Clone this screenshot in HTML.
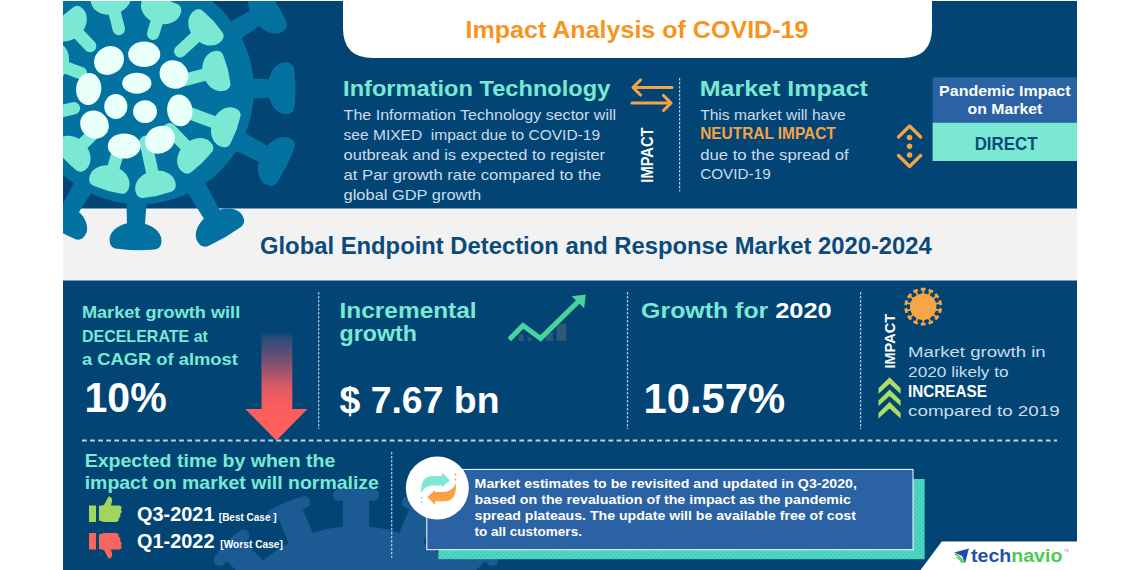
<!DOCTYPE html>
<html lang="en"><head><meta charset="utf-8"><title>Impact Analysis of COVID-19</title><style>html,body{margin:0;padding:0;background:#fff;overflow:hidden}svg text{white-space:pre}</style></head><body>
<svg width="1140" height="570" viewBox="0 0 1140 570" font-family="'Liberation Sans', sans-serif" style="display:block">
<rect width="1140" height="570" fill="#ffffff"/>
<defs><clipPath id="frame"><rect x="63" y="1" width="1014" height="569"/></clipPath><linearGradient id="redarrow" x1="0" y1="0" x2="0" y2="1"><stop offset="0" stop-color="#2a4a78" stop-opacity="0"/><stop offset="0.05" stop-color="#2f4b79" stop-opacity="0.9"/><stop offset="0.12" stop-color="#404d79"/><stop offset="0.31" stop-color="#8a526f"/><stop offset="0.52" stop-color="#e05a62"/><stop offset="0.68" stop-color="#fb5d5e"/><stop offset="1" stop-color="#ff605c"/></linearGradient><pattern id="hatch" width="3" height="3" patternUnits="userSpaceOnUse" patternTransform="rotate(45)"><rect width="3" height="3" fill="#3fcdb8"/><rect width="1" height="3" fill="#62dccb"/></pattern></defs>
<g clip-path="url(#frame)">
<rect x="63" y="1" width="1014" height="569" fill="#024575"/>
<rect x="63" y="208.5" width="1014" height="72" fill="#f2f2f2"/>
<g fill="#1b5a93"><circle cx="356" cy="668" r="142"/>
<g transform="translate(356,668) rotate(-159)"><rect x="138" y="-13" width="42" height="26"/><rect x="167" y="-23" width="12" height="46" rx="6"/></g>
<g transform="translate(356,668) rotate(-136)"><rect x="138" y="-13" width="42" height="26"/><rect x="167" y="-23" width="12" height="46" rx="6"/></g>
<g transform="translate(356,668) rotate(-113)"><rect x="138" y="-13" width="42" height="26"/><rect x="167" y="-23" width="12" height="46" rx="6"/></g>
<g transform="translate(356,668) rotate(-90)"><rect x="138" y="-13" width="42" height="26"/><rect x="167" y="-23" width="12" height="46" rx="6"/></g>
<g transform="translate(356,668) rotate(-67)"><rect x="138" y="-13" width="42" height="26"/><rect x="167" y="-23" width="12" height="46" rx="6"/></g>
<g transform="translate(356,668) rotate(-44)"><rect x="138" y="-13" width="42" height="26"/><rect x="167" y="-23" width="12" height="46" rx="6"/></g>
<g transform="translate(356,668) rotate(-21)"><rect x="138" y="-13" width="42" height="26"/><rect x="167" y="-23" width="12" height="46" rx="6"/></g>
</g>
<circle cx="139.5" cy="89.7" r="114.5" fill="#0372a1"/>
<g transform="translate(139.5,89.7) rotate(-31.8)" fill="#0372a1"><path d="M109.5,-10.2 L140.1,-8.8 L140.1,8.8 L109.5,10.2 Z"/><path d="M151.9,26.0 C142.1,26.0 134.1,14.4 134.1,0 C134.1,-14.4 142.1,-26.0 151.9,-26.0 Q161.1,-26.0 161.1,-16.1 Q162.7,0 161.1,16.1 Q161.1,26.0 151.9,26.0 Z"/></g>
<g transform="translate(139.5,89.7) rotate(-0.6)" fill="#0372a1"><path d="M109.5,-10.2 L134.3,-8.8 L134.3,8.8 L109.5,10.2 Z"/><path d="M146.1,26.0 C136.3,26.0 128.3,14.4 128.3,0 C128.3,-14.4 136.3,-26.0 146.1,-26.0 Q155.3,-26.0 155.3,-16.1 Q156.9,0 155.3,16.1 Q155.3,26.0 146.1,26.0 Z"/></g>
<g transform="translate(139.5,89.7) rotate(27.4)" fill="#0372a1"><path d="M109.5,-10.2 L144.0,-8.8 L144.0,8.8 L109.5,10.2 Z"/><path d="M155.9,26.0 C146.0,26.0 138.0,14.4 138.0,0 C138.0,-14.4 146.0,-26.0 155.9,-26.0 Q165.0,-26.0 165.0,-16.1 Q166.6,0 165.0,16.1 Q165.0,26.0 155.9,26.0 Z"/></g>
<g transform="translate(139.5,89.7) rotate(59.9)" fill="#0372a1"><path d="M109.5,-10.2 L148.9,-8.8 L148.9,8.8 L109.5,10.2 Z"/><path d="M160.7,26.0 C150.9,26.0 142.9,14.4 142.9,0 C142.9,-14.4 150.9,-26.0 160.7,-26.0 Q169.9,-26.0 169.9,-16.1 Q171.5,0 169.9,16.1 Q169.9,26.0 160.7,26.0 Z"/></g>
<g transform="translate(139.5,89.7) rotate(91.5)" fill="#0372a1"><path d="M109.5,-10.2 L138.8,-8.8 L138.8,8.8 L109.5,10.2 Z"/><path d="M150.7,26.0 C140.8,26.0 132.8,14.4 132.8,0 C132.8,-14.4 140.8,-26.0 150.7,-26.0 Q159.8,-26.0 159.8,-16.1 Q161.4,0 159.8,16.1 Q159.8,26.0 150.7,26.0 Z"/></g>
<g transform="translate(139.5,89.7) rotate(120.1)" fill="#0372a1"><path d="M109.5,-10.2 L140.9,-8.8 L140.9,8.8 L109.5,10.2 Z"/><path d="M152.7,26.0 C142.8,26.0 134.9,14.4 134.9,0 C134.9,-14.4 142.8,-26.0 152.7,-26.0 Q161.9,-26.0 161.9,-16.1 Q163.5,0 161.9,16.1 Q161.9,26.0 152.7,26.0 Z"/></g>
<g transform="translate(139.5,89.7) rotate(-132.2)" fill="#0372a1"><path d="M109.5,-10.2 L140.6,-8.8 L140.6,8.8 L109.5,10.2 Z"/><path d="M152.4,26.0 C142.6,26.0 134.6,14.4 134.6,0 C134.6,-14.4 142.6,-26.0 152.4,-26.0 Q161.6,-26.0 161.6,-16.1 Q163.2,0 161.6,16.1 Q161.6,26.0 152.4,26.0 Z"/></g>
<g transform="translate(135.0,93.0) rotate(-133.7)" fill="#7ae8d3"><path d="M65.0,-6.2 L86.4,-6.2 L86.4,6.2 L65.0,6.2 A6.2,6.2 0 0 1 65.0,-6.2 Z"/><path d="M96.6,20.5 C87.6,20.5 80.4,11.3 80.4,0 C80.4,-11.3 87.6,-20.5 96.6,-20.5 Q104.9,-20.5 104.9,-12.7 Q106.5,0 104.9,12.7 Q104.9,20.5 96.6,20.5 Z"/></g>
<g transform="translate(135.0,93.0) rotate(-104.2)" fill="#7ae8d3"><path d="M66.0,-6.2 L87.6,-6.2 L87.6,6.2 L66.0,6.2 A6.2,6.2 0 0 1 66.0,-6.2 Z"/><path d="M97.8,20.5 C88.9,20.5 81.6,11.3 81.6,0 C81.6,-11.3 88.9,-20.5 97.8,-20.5 Q106.1,-20.5 106.1,-12.7 Q107.7,0 106.1,12.7 Q106.1,20.5 97.8,20.5 Z"/></g>
<g transform="translate(135.0,93.0) rotate(-73.0)" fill="#7ae8d3"><path d="M62.0,-6.2 L79.1,-6.2 L79.1,6.2 L62.0,6.2 A6.2,6.2 0 0 1 62.0,-6.2 Z"/><path d="M89.3,20.5 C80.3,20.5 73.1,11.3 73.1,0 C73.1,-11.3 80.3,-20.5 89.3,-20.5 Q97.6,-20.5 97.6,-12.7 Q99.2,0 97.6,12.7 Q97.6,20.5 89.3,20.5 Z"/></g>
<g transform="translate(135.0,93.0) rotate(-42.7)" fill="#7ae8d3"><path d="M61.5,-6.2 L87.2,-6.2 L87.2,6.2 L61.5,6.2 A6.2,6.2 0 0 1 61.5,-6.2 Z"/><path d="M97.4,20.5 C88.5,20.5 81.2,11.3 81.2,0 C81.2,-11.3 88.5,-20.5 97.4,-20.5 Q105.7,-20.5 105.7,-12.7 Q107.3,0 105.7,12.7 Q105.7,20.5 97.4,20.5 Z"/></g>
<g transform="translate(135.0,93.0) rotate(-14.7)" fill="#7ae8d3"><path d="M50.0,-6.2 L76.5,-6.2 L76.5,6.2 L50.0,6.2 A6.2,6.2 0 0 1 50.0,-6.2 Z"/><path d="M86.6,20.5 C77.7,20.5 70.5,11.3 70.5,0 C70.5,-11.3 77.7,-20.5 86.6,-20.5 Q95.0,-20.5 95.0,-12.7 Q96.6,0 95.0,12.7 Q95.0,20.5 86.6,20.5 Z"/></g>
<g transform="translate(135.0,93.0) rotate(20.3)" fill="#7ae8d3"><path d="M50.0,-6.2 L88.7,-6.2 L88.7,6.2 L50.0,6.2 A6.2,6.2 0 0 1 50.0,-6.2 Z"/><path d="M98.8,20.5 C89.9,20.5 82.7,11.3 82.7,0 C82.7,-11.3 89.9,-20.5 98.8,-20.5 Q107.2,-20.5 107.2,-12.7 Q108.8,0 107.2,12.7 Q107.2,20.5 98.8,20.5 Z"/></g>
<g transform="translate(135.0,93.0) rotate(46.2)" fill="#7ae8d3"><path d="M50.0,-6.2 L77.6,-6.2 L77.6,6.2 L50.0,6.2 A6.2,6.2 0 0 1 50.0,-6.2 Z"/><path d="M87.7,20.5 C78.8,20.5 71.6,11.3 71.6,0 C71.6,-11.3 78.8,-20.5 87.7,-20.5 Q96.1,-20.5 96.1,-12.7 Q97.7,0 96.1,12.7 Q96.1,20.5 87.7,20.5 Z"/></g>
<g transform="translate(135.0,93.0) rotate(77.7)" fill="#7ae8d3"><path d="M50.0,-6.2 L85.9,-6.2 L85.9,6.2 L50.0,6.2 A6.2,6.2 0 0 1 50.0,-6.2 Z"/><path d="M96.1,20.5 C87.1,20.5 79.9,11.3 79.9,0 C79.9,-11.3 87.1,-20.5 96.1,-20.5 Q104.4,-20.5 104.4,-12.7 Q106.0,0 104.4,12.7 Q104.4,20.5 96.1,20.5 Z"/></g>
<g transform="translate(135.0,93.0) rotate(106.1)" fill="#7ae8d3"><path d="M50.0,-6.2 L82.2,-6.2 L82.2,6.2 L50.0,6.2 A6.2,6.2 0 0 1 50.0,-6.2 Z"/><path d="M92.4,20.5 C83.4,20.5 76.2,11.3 76.2,0 C76.2,-11.3 83.4,-20.5 92.4,-20.5 Q100.7,-20.5 100.7,-12.7 Q102.3,0 100.7,12.7 Q100.7,20.5 92.4,20.5 Z"/></g>
<g transform="translate(135.0,93.0) rotate(135.7)" fill="#7ae8d3"><path d="M50.0,-6.2 L77.6,-6.2 L77.6,6.2 L50.0,6.2 A6.2,6.2 0 0 1 50.0,-6.2 Z"/><path d="M87.8,20.5 C78.9,20.5 71.6,11.3 71.6,0 C71.6,-11.3 78.9,-20.5 87.8,-20.5 Q96.1,-20.5 96.1,-12.7 Q97.7,0 96.1,12.7 Q96.1,20.5 87.8,20.5 Z"/></g>
<g transform="translate(135.0,93.0) rotate(166.0)" fill="#7ae8d3"><path d="M63.0,-6.2 L85.8,-6.2 L85.8,6.2 L63.0,6.2 A6.2,6.2 0 0 1 63.0,-6.2 Z"/><path d="M96.0,20.5 C87.0,20.5 79.8,11.3 79.8,0 C79.8,-11.3 87.0,-20.5 96.0,-20.5 Q104.3,-20.5 104.3,-12.7 Q105.9,0 104.3,12.7 Q104.3,20.5 96.0,20.5 Z"/></g>
<g transform="translate(135.0,93.0) rotate(-159.8)" fill="#7ae8d3"><path d="M57.7,-6.2 L77.9,-6.2 L77.9,6.2 L57.7,6.2 A6.2,6.2 0 0 1 57.7,-6.2 Z"/><path d="M88.1,20.5 C79.1,20.5 71.9,11.3 71.9,0 C71.9,-11.3 79.1,-20.5 88.1,-20.5 Q96.4,-20.5 96.4,-12.7 Q98.0,0 96.4,12.7 Q96.4,20.5 88.1,20.5 Z"/></g>
<ellipse cx="109" cy="60.5" rx="15.5" ry="13.8" fill="#e9fff9" transform="rotate(-35 109 60.5)"/>
<ellipse cx="144.2" cy="54.3" rx="16" ry="12.7" fill="#e9fff9" transform="rotate(0 144.2 54.3)"/>
<ellipse cx="174" cy="74.5" rx="15" ry="13.6" fill="#e9fff9" transform="rotate(40 174 74.5)"/>
<ellipse cx="136.8" cy="83.2" rx="14.6" ry="10.5" fill="#e9fff9" transform="rotate(0 136.8 83.2)"/>
<ellipse cx="88.7" cy="89" rx="12.6" ry="16" fill="#e9fff9" transform="rotate(5 88.7 89)"/>
<ellipse cx="115.8" cy="106.5" rx="11.6" ry="12.5" fill="#e9fff9" transform="rotate(0 115.8 106.5)"/>
<ellipse cx="145" cy="111.6" rx="12" ry="11.4" fill="#e9fff9" transform="rotate(0 145 111.6)"/>
<ellipse cx="179.8" cy="110.4" rx="12.6" ry="16" fill="#e9fff9" transform="rotate(-8 179.8 110.4)"/>
<ellipse cx="94.5" cy="124.6" rx="14.8" ry="13.6" fill="#e9fff9" transform="rotate(40 94.5 124.6)"/>
<ellipse cx="124.2" cy="146" rx="16.4" ry="12.6" fill="#e9fff9" transform="rotate(0 124.2 146)"/>
<ellipse cx="160" cy="139.7" rx="15.6" ry="13.4" fill="#e9fff9" transform="rotate(-32 160 139.7)"/>
<path d="M343,0 L932,0 L932,28 Q932,58 902,58 L373,58 Q343,58 343,28 Z" fill="#ffffff"/>
<text x="465.5" y="37.8" font-size="23.5" font-weight="bold" fill="#f7941d" text-anchor="start" textLength="342.9" lengthAdjust="spacingAndGlyphs">Impact Analysis of COVID-19</text>
<text x="343.1" y="96.0" font-size="22.5" font-weight="bold" fill="#7ae8d3" text-anchor="start" textLength="267.2" lengthAdjust="spacingAndGlyphs">Information Technology</text>
<text x="343.6" y="119.6" font-size="15" font-weight="normal" fill="#cbdcea" text-anchor="start" textLength="272.5" lengthAdjust="spacingAndGlyphs">The Information Technology sector will</text>
<text x="343.6" y="139.6" font-size="15" font-weight="normal" fill="#cbdcea" text-anchor="start" textLength="256.5" lengthAdjust="spacingAndGlyphs">see MIXED  impact due to COVID-19</text>
<text x="343.6" y="159.6" font-size="15" font-weight="normal" fill="#cbdcea" text-anchor="start" textLength="261.5" lengthAdjust="spacingAndGlyphs">outbreak and is expected to register</text>
<text x="343.6" y="179.6" font-size="15" font-weight="normal" fill="#cbdcea" text-anchor="start" textLength="257.5" lengthAdjust="spacingAndGlyphs">at Par growth rate compared to the</text>
<text x="343.6" y="199.6" font-size="15" font-weight="normal" fill="#cbdcea" text-anchor="start" textLength="137.5" lengthAdjust="spacingAndGlyphs">global GDP growth</text>
<g fill="none" stroke="#f5a445" stroke-width="3.1" stroke-linecap="round" stroke-linejoin="round"><path d="M672,87.5 L633,87.5 M640.5,80 L633,87.5 L640.5,95"/><path d="M632,103 L671,103 M663.5,95.5 L671,103 L663.5,110.5"/></g>
<text transform="translate(653.3,182.7) rotate(-90)" font-size="16.5" font-weight="bold" fill="#ffffff" textLength="55.3" lengthAdjust="spacingAndGlyphs">IMPACT</text>
<line x1="679.6" y1="78" x2="679.6" y2="191.5" stroke="#d6e8f5" stroke-width="1.2" stroke-dasharray="2.4 1.6" opacity="0.85"/>
<text x="699.7" y="96.0" font-size="22.5" font-weight="bold" fill="#7ae8d3" text-anchor="start" textLength="168.2" lengthAdjust="spacingAndGlyphs">Market Impact</text>
<text x="700.2" y="119.8" font-size="15" font-weight="normal" fill="#cbdcea" text-anchor="start" textLength="145.5" lengthAdjust="spacingAndGlyphs">This market will have</text>
<text x="700.2" y="139.4" font-size="16" font-weight="bold" fill="#f5a445" text-anchor="start" textLength="135.6" lengthAdjust="spacingAndGlyphs">NEUTRAL IMPACT</text>
<text x="700.2" y="159.6" font-size="15" font-weight="normal" fill="#cbdcea" text-anchor="start" textLength="148.5" lengthAdjust="spacingAndGlyphs">due to the spread of</text>
<text x="700.2" y="179.3" font-size="15" font-weight="normal" fill="#cbdcea" text-anchor="start" textLength="70.5" lengthAdjust="spacingAndGlyphs">COVID-19</text>
<g fill="none" stroke="#f5a445" stroke-width="3.3" stroke-linecap="round" stroke-linejoin="round"><path d="M898.5,137 L909.6,126 L920.7,137"/><path d="M898.5,155.5 L909.6,166.5 L920.7,155.5"/></g>
<circle cx="909.6" cy="137.5" r="2.7" fill="#f5a445"/>
<circle cx="909.6" cy="146.3" r="2.7" fill="#f5a445"/>
<circle cx="909.6" cy="155" r="2.7" fill="#f5a445"/>
<rect x="932.6" y="77.3" width="144.39999999999998" height="45.4" fill="#2a62a3"/>
<rect x="932.6" y="122.7" width="144.39999999999998" height="38.3" fill="#7ae8d3"/>
<text x="939.1" y="95.8" font-size="14.5" font-weight="bold" fill="#ffffff" text-anchor="start" textLength="131.4" lengthAdjust="spacingAndGlyphs">Pandemic Impact</text>
<text x="967.5" y="114.3" font-size="14.5" font-weight="bold" fill="#ffffff" text-anchor="start" textLength="74.8" lengthAdjust="spacingAndGlyphs">on Market</text>
<text x="974.7" y="149.5" font-size="17.5" font-weight="bold" fill="#0c4a7c" text-anchor="start" textLength="62.8" lengthAdjust="spacingAndGlyphs">DIRECT</text>
<text x="260.0" y="253.8" font-size="23" font-weight="bold" fill="#0c4a7c" text-anchor="start" textLength="671.8" lengthAdjust="spacingAndGlyphs">Global Endpoint Detection and Response Market 2020-2024</text>
<line x1="318.7" y1="292" x2="318.7" y2="429" stroke="#d6e8f5" stroke-width="1.2" stroke-dasharray="2.4 1.6" opacity="0.85"/>
<line x1="627.5" y1="292" x2="627.5" y2="429" stroke="#d6e8f5" stroke-width="1.2" stroke-dasharray="2.4 1.6" opacity="0.85"/>
<line x1="860.6" y1="292" x2="860.6" y2="429" stroke="#d6e8f5" stroke-width="1.2" stroke-dasharray="2.4 1.6" opacity="0.85"/>
<line x1="82" y1="440.5" x2="1057" y2="440.5" stroke="#cfe6f5" stroke-width="1.8" stroke-dasharray="4.7 3.4" opacity="0.9"/>
<line x1="391.7" y1="452" x2="391.7" y2="558" stroke="#d6e8f5" stroke-width="1.2" stroke-dasharray="2.4 1.6" opacity="0.85"/>
<text x="81.9" y="317.9" font-size="17" font-weight="bold" fill="#7ae8d3" text-anchor="start" textLength="158.3" lengthAdjust="spacingAndGlyphs">Market growth will</text>
<text x="81.9" y="341.6" font-size="17" font-weight="bold" fill="#7ae8d3" text-anchor="start" textLength="126.0" lengthAdjust="spacingAndGlyphs">DECELERATE at</text>
<text x="81.9" y="365.0" font-size="17" font-weight="bold" fill="#7ae8d3" text-anchor="start" textLength="156.0" lengthAdjust="spacingAndGlyphs">a CAGR of almost</text>
<text x="84.5" y="412.4" font-size="42" font-weight="bold" fill="#ffffff" text-anchor="start" textLength="82.2" lengthAdjust="spacingAndGlyphs">10%</text>
<path d="M261.5,332 L292.3,332 L292.3,409 L307.5,409 L276.4,440.5 L245.3,409 L261.5,409 Z" fill="url(#redarrow)"/>
<text x="339.6" y="317.9" font-size="21.5" font-weight="bold" fill="#7ae8d3" text-anchor="start" textLength="137.0" lengthAdjust="spacingAndGlyphs">Incremental</text>
<text x="339.6" y="341.2" font-size="21.5" font-weight="bold" fill="#7ae8d3" text-anchor="start" textLength="77.2" lengthAdjust="spacingAndGlyphs">growth</text>
<text x="339.5" y="412.5" font-size="37" font-weight="bold" fill="#ffffff" text-anchor="start" textLength="160.0" lengthAdjust="spacingAndGlyphs">$ 7.67 bn</text>
<g fill="#4d6478" opacity="0.6"><rect x="556.6" y="323.8" width="9.6" height="17"/><rect x="546" y="333" width="7" height="8"/><rect x="518.5" y="334" width="5" height="7"/><rect x="527.5" y="337.5" width="4" height="3.5"/></g>
<g fill="none" stroke="#48d29c" stroke-width="5" stroke-linejoin="miter" stroke-linecap="butt"><path d="M509.3,339.6 L523,325.6 L540.6,338.4 L579,300.8"/></g>
<path d="M585.8,294.5 L571.5,296.3 L584.2,308.3 Z" fill="#48d29c"/>
<text x="641.1" y="317.9" font-size="21.5" font-weight="bold" fill="#7ae8d3" text-anchor="start" textLength="127.2" lengthAdjust="spacingAndGlyphs">Growth for</text>
<text x="775.2" y="317.9" font-size="21.5" font-weight="bold" fill="#ffffff" text-anchor="start" textLength="56.5" lengthAdjust="spacingAndGlyphs">2020</text>
<text x="643.5" y="412.5" font-size="42" font-weight="bold" fill="#ffffff" text-anchor="start" textLength="141.8" lengthAdjust="spacingAndGlyphs">10.57%</text>
<text transform="translate(895.2,368.5) rotate(-90)" font-size="15" font-weight="bold" fill="#ffffff" textLength="54.5" lengthAdjust="spacingAndGlyphs">IMPACT</text>
<g fill="#aedd62">
<path d="M878.5,388.3 L889.6,377.2 L900.6,388.3 L900.6,393.8 L889.6,383.8 L878.5,393.8 Z"/>
<path d="M878.5,400.6 L889.6,389.5 L900.6,400.6 L900.6,406.1 L889.6,396.1 L878.5,406.1 Z"/>
<path d="M878.5,412.9 L889.6,401.8 L900.6,412.9 L900.6,418.4 L889.6,408.4 L878.5,418.4 Z"/>
</g>
<g fill="#f8a546"><circle cx="923.2" cy="306.7" r="13.2"/>
<path transform="translate(923.2,306.7) rotate(-90.0)" d="M12.5,-0.9 L16.2,-0.9 L16.2,-2.6 L18.9,-2.2 L18.9,2.2 L16.2,2.6 L16.2,0.9 L12.5,0.9 Z"/>
<path transform="translate(923.2,306.7) rotate(-64.3)" d="M12.5,-0.9 L16.2,-0.9 L16.2,-2.6 L18.9,-2.2 L18.9,2.2 L16.2,2.6 L16.2,0.9 L12.5,0.9 Z"/>
<path transform="translate(923.2,306.7) rotate(-38.6)" d="M12.5,-0.9 L16.2,-0.9 L16.2,-2.6 L18.9,-2.2 L18.9,2.2 L16.2,2.6 L16.2,0.9 L12.5,0.9 Z"/>
<path transform="translate(923.2,306.7) rotate(-12.9)" d="M12.5,-0.9 L16.2,-0.9 L16.2,-2.6 L18.9,-2.2 L18.9,2.2 L16.2,2.6 L16.2,0.9 L12.5,0.9 Z"/>
<path transform="translate(923.2,306.7) rotate(12.9)" d="M12.5,-0.9 L16.2,-0.9 L16.2,-2.6 L18.9,-2.2 L18.9,2.2 L16.2,2.6 L16.2,0.9 L12.5,0.9 Z"/>
<path transform="translate(923.2,306.7) rotate(38.6)" d="M12.5,-0.9 L16.2,-0.9 L16.2,-2.6 L18.9,-2.2 L18.9,2.2 L16.2,2.6 L16.2,0.9 L12.5,0.9 Z"/>
<path transform="translate(923.2,306.7) rotate(64.3)" d="M12.5,-0.9 L16.2,-0.9 L16.2,-2.6 L18.9,-2.2 L18.9,2.2 L16.2,2.6 L16.2,0.9 L12.5,0.9 Z"/>
<path transform="translate(923.2,306.7) rotate(90.0)" d="M12.5,-0.9 L16.2,-0.9 L16.2,-2.6 L18.9,-2.2 L18.9,2.2 L16.2,2.6 L16.2,0.9 L12.5,0.9 Z"/>
<path transform="translate(923.2,306.7) rotate(115.7)" d="M12.5,-0.9 L16.2,-0.9 L16.2,-2.6 L18.9,-2.2 L18.9,2.2 L16.2,2.6 L16.2,0.9 L12.5,0.9 Z"/>
<path transform="translate(923.2,306.7) rotate(141.4)" d="M12.5,-0.9 L16.2,-0.9 L16.2,-2.6 L18.9,-2.2 L18.9,2.2 L16.2,2.6 L16.2,0.9 L12.5,0.9 Z"/>
<path transform="translate(923.2,306.7) rotate(167.1)" d="M12.5,-0.9 L16.2,-0.9 L16.2,-2.6 L18.9,-2.2 L18.9,2.2 L16.2,2.6 L16.2,0.9 L12.5,0.9 Z"/>
<path transform="translate(923.2,306.7) rotate(192.9)" d="M12.5,-0.9 L16.2,-0.9 L16.2,-2.6 L18.9,-2.2 L18.9,2.2 L16.2,2.6 L16.2,0.9 L12.5,0.9 Z"/>
<path transform="translate(923.2,306.7) rotate(218.6)" d="M12.5,-0.9 L16.2,-0.9 L16.2,-2.6 L18.9,-2.2 L18.9,2.2 L16.2,2.6 L16.2,0.9 L12.5,0.9 Z"/>
<path transform="translate(923.2,306.7) rotate(244.3)" d="M12.5,-0.9 L16.2,-0.9 L16.2,-2.6 L18.9,-2.2 L18.9,2.2 L16.2,2.6 L16.2,0.9 L12.5,0.9 Z"/>
</g>
<text x="908.1" y="357.2" font-size="15.5" font-weight="normal" fill="#cbdcea" text-anchor="start" textLength="137.6" lengthAdjust="spacingAndGlyphs">Market growth in</text>
<text x="908.1" y="376.8" font-size="15.5" font-weight="normal" fill="#cbdcea" text-anchor="start" textLength="100.5" lengthAdjust="spacingAndGlyphs">2020 likely to</text>
<text x="908.0" y="396.7" font-size="16.5" font-weight="bold" fill="#ffffff" text-anchor="start" textLength="78.9" lengthAdjust="spacingAndGlyphs">INCREASE</text>
<text x="908.1" y="416.1" font-size="15.5" font-weight="normal" fill="#cbdcea" text-anchor="start" textLength="151.6" lengthAdjust="spacingAndGlyphs">compared to 2019</text>
<text x="84.7" y="467.3" font-size="18.5" font-weight="bold" fill="#7ae8d3" text-anchor="start" textLength="250.7" lengthAdjust="spacingAndGlyphs">Expected time by when the</text>
<text x="84.7" y="489.4" font-size="18.5" font-weight="bold" fill="#7ae8d3" text-anchor="start" textLength="294.2" lengthAdjust="spacingAndGlyphs">impact on market will normalize</text>
<text x="137.0" y="520.6" font-size="20.5" font-weight="bold" fill="#ffffff" text-anchor="start" textLength="77.5" lengthAdjust="spacingAndGlyphs">Q3-2021</text>
<text x="218.8" y="520.6" font-size="10" font-weight="bold" fill="#ffffff" text-anchor="start" textLength="57.8" lengthAdjust="spacingAndGlyphs">[Best Case ]</text>
<text x="137.0" y="548.4" font-size="20.5" font-weight="bold" fill="#ffffff" text-anchor="start" textLength="77.5" lengthAdjust="spacingAndGlyphs">Q1-2022</text>
<text x="220.3" y="548.4" font-size="10" font-weight="bold" fill="#ffffff" text-anchor="start" textLength="62.6" lengthAdjust="spacingAndGlyphs">[Worst Case]</text>
<g fill="#a2d55e"><rect x="89" y="505.5" width="7" height="16.5"/><path d="M99,506 L104,505 L108.5,496.5 C111.5,496.5 112.5,499 112,501.5 L111,505.5 L119,505.5 C121.5,505.5 122.3,508 120.8,509.5 C122.3,511 121.8,513.3 120,514 C121,515.7 120.3,517.6 118.6,518.2 C119.2,520.3 118,522 115.8,522 L104,522 L99,520.5 Z"/></g>
<g fill="#f9665e"><rect x="89" y="533" width="7" height="16.5"/><path d="M99,549 L104,550 L108.5,558.5 C111.5,558.5 112.5,556 112,553.5 L111,549.5 L119,549.5 C121.5,549.5 122.3,547 120.8,545.5 C122.3,544 121.8,541.7 120,541 C121,539.3 120.3,537.4 118.6,536.8 C119.2,534.7 118,533 115.8,533 L104,533 L99,534.5 Z"/></g>
<rect x="438.4" y="479" width="486.2" height="80.2" fill="url(#hatch)"/>
<rect x="426.8" y="469.4" width="486.2" height="80.3" fill="#2a62a3" stroke="#ffffff" stroke-width="1"/>
<circle cx="437.3" cy="488.1" r="31.5" fill="#ffffff"/>
<path d="M421,493 C420.6,480.5 425,476 433,476 L442,476 L442,472.3 L450,480.2 L442,487.4 L442,485.6 L434,485.6 C428,485.6 424,488 421,493 Z" fill="#7fe8d4"/>
<path d="M456,483.5 C456.4,496.8 452,501.3 444,501.3 L435,501.3 L435,504.9 L427.3,497 L435,489.9 L435,491.9 L443,491.9 C449,491.9 453,489.3 456,483.5 Z" fill="#f9a245"/>
<circle cx="455.4" cy="474.6" r="1" fill="#f9a245"/>
<circle cx="455.4" cy="479.5" r="1" fill="#f9a245"/>
<circle cx="421.8" cy="497.7" r="1" fill="#7fe8d4"/>
<circle cx="421.8" cy="502.2" r="1" fill="#7fe8d4"/>
<text x="474.6" y="488.3" font-size="13" font-weight="bold" fill="#ffffff" text-anchor="start" textLength="382.3" lengthAdjust="spacingAndGlyphs">Market estimates to be revisited and updated in Q3-2020,</text>
<text x="474.6" y="504.1" font-size="13" font-weight="bold" fill="#ffffff" text-anchor="start" textLength="376.3" lengthAdjust="spacingAndGlyphs">based on the revaluation of the impact as the pandemic</text>
<text x="474.6" y="519.8" font-size="13" font-weight="bold" fill="#ffffff" text-anchor="start" textLength="381.3" lengthAdjust="spacingAndGlyphs">spread plateaus. The update will be available free of cost</text>
<text x="474.6" y="535.5" font-size="13" font-weight="bold" fill="#ffffff" text-anchor="start" textLength="107.3" lengthAdjust="spacingAndGlyphs">to all customers.</text>
<path d="M920.5,570 L941.8,541.6 L1077,541.6 L1077,570 Z" fill="#ffffff"/>
<path d="M954.1,552.5 L968.9,548.6 L965,563.4 L962.1,556 Z" fill="#1f4fae"/>
<path d="M954.6,554.2 C958.3,555 961.6,558 963.6,562.6" fill="none" stroke="#4ccb4f" stroke-width="1.6"/>
<path d="M956.5,557.3 C958.6,558 960.6,559.8 962,562.8" fill="none" stroke="#4ccb4f" stroke-width="1.3"/>
<text x="971" y="562.2" font-size="18" font-weight="bold" textLength="91.4" lengthAdjust="spacingAndGlyphs"><tspan fill="#2450a8">tech</tspan><tspan fill="#4ccb4f">navio</tspan></text>
<text x="1063.5" y="551.5" font-size="3.5" fill="#9aa7b5">TM</text>
</g>
</svg>
</body></html>
